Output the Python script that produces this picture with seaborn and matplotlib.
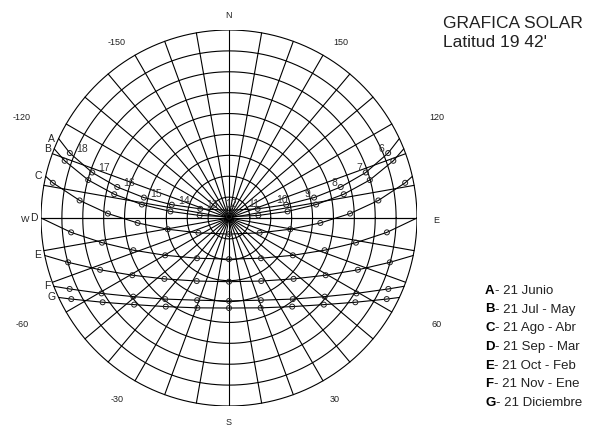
import numpy as np
import pandas as pd
import matplotlib
matplotlib.use("Agg")
import matplotlib.pyplot as plt
import seaborn as sns

# --- data (altitude / azimuth from south, + = east) ---

dates = ["A", "B", "C", "D", "E", "F", "G"]
date_names = ["21 Junio", "21 Jul - May", "21 Ago - Abr", "21 Sep - Mar",
              "21 Oct - Feb", "21 Nov - Ene", "21 Diciembre"]

hours_long = [6, 7, 8, 9, 10, 11, 12, 13, 14, 15, 16, 17, 18]
hours_short = [7, 8, 9, 10, 11, 12, 13, 14, 15, 16, 17]

A_alt = [7.7, 21.0, 34.5, 48.1, 61.9, 75.6, 86.3, 75.6, 61.9, 48.1, 34.5, 21.0, 7.7]
A_az = [112.2, 108.4, 105.5, 103.5, 103.1, 107.7, 180.0, -107.7, -103.1, -103.5, -105.5, -108.4, -112.2]
B_alt = [6.7, 20.2, 33.9, 47.8, 61.8, 75.9, 89.4, 75.9, 61.8, 47.8, 33.9, 20.2, 6.7]
B_az = [109.2, 105.1, 101.7, 98.8, 96.4, 95.0, 180.0, -95.0, -96.4, -98.8, -101.7, -105.1, -109.2]
C_alt = [4.0, 18.0, 32.0, 46.2, 60.2, 73.7, 82.3, 73.7, 60.2, 46.2, 32.0, 18.0, 4.0]
C_az = [101.3, 96.7, 92.1, 86.9, 79.6, 64.1, 0.0, -64.1, -79.6, -86.9, -92.1, -96.7, -101.3]
D_alt = [14.1, 28.1, 41.7, 54.6, 65.4, 70.3, 65.4, 54.6, 41.7, 28.1, 14.1]
D_az = [84.8, 79.0, 71.4, 59.7, 38.5, 0.0, -38.5, -59.7, -71.4, -79.0, -84.8]
E_alt = [10.1, 23.5, 36.2, 47.5, 56.1, 59.5, 56.1, 47.5, 36.2, 23.5, 10.1]
E_az = [74.6, 68.1, 59.4, 46.7, 27.1, 0.0, -27.1, -46.7, -59.4, -68.1, -74.6]
F_alt = [6.5, 19.1, 30.7, 40.6, 47.8, 50.3, 47.8, 40.6, 30.7, 19.1, 6.5]
F_az = [66.0, 59.4, 50.6, 38.2, 21.2, 0.0, -21.2, -38.2, -50.6, -59.4, -66.0]
G_alt = [5.1, 17.3, 28.5, 37.9, 44.4, 46.9, 44.4, 37.9, 28.5, 17.3, 5.1]
G_az = [62.8, 56.3, 47.6, 35.5, 19.4, 0.0, -19.4, -35.5, -47.6, -56.3, -62.8]

# sunrise azimuth of each curve (sunset is the same to the west)
sunrise_az = [115.0, 111.6, 102.8, 90.0, 78.5, 68.7, 65.0]

az_labels = ["150", "120", "60", "30", "-150", "-120", "-60", "-30"]

series = {
    "A": (hours_long, A_alt, A_az), "B": (hours_long, B_alt, B_az),
    "C": (hours_long, C_alt, C_az), "D": (hours_short, D_alt, D_az),
    "E": (hours_short, E_alt, E_az), "F": (hours_short, F_alt, F_az),
    "G": (hours_short, G_alt, G_az),
}


def to_xy(alt, az):
    # equidistant polar projection, radius = zenith distance
    r = 90 - np.asarray(alt, dtype=float)
    a = np.radians(np.asarray(az, dtype=float))
    return r * np.sin(a), -r * np.cos(a)


rows = []
for d in dates:
    hrs, alt, az = series[d]
    x, y = to_xy(alt, az)
    for h, xi, yi in zip(hrs, x, y):
        rows.append({"date": d, "hour": h, "x": xi, "y": yi})
pts = pd.DataFrame(rows)

# --- figure ---
sns.set_style("white")
plt.rcParams["font.family"] = ["Liberation Sans", "DejaVu Sans"]

W, H = 590, 429
fig = plt.figure(figsize=(W / 100, H / 100), dpi=100)
ax = fig.add_axes([41 / W, 23 / H, 376 / W, 376 / H])
ax.set_xlim(-90, 90)
ax.set_ylim(-90, 90)
ax.axis("off")

lw = 0.8
txt = "#222222"

# altitude rings
t = np.linspace(0, 2 * np.pi, 721)
for r in range(10, 91, 10):
    ax.plot(r * np.cos(t), r * np.sin(t), color="black", lw=lw, zorder=1)
# azimuth rays every 10 degrees
for a in range(0, 360, 10):
    ar = np.radians(a)
    ax.plot([0, 90 * np.sin(ar)], [0, -90 * np.cos(ar)], color="black", lw=lw, zorder=1)
ax.plot([-92, 92], [0, 0], color="black", lw=lw, zorder=1)

# day curves from sunrise to sunset
for i, d in enumerate(dates):
    hrs, alt, az = series[d]
    x, y = to_xy([0.0] + alt + [0.0], [sunrise_az[i]] + az + [-sunrise_az[i]])
    sns.lineplot(x=x, y=y, sort=False, estimator=None, color="black", lw=lw, ax=ax, zorder=2)
    # letter at the sunset end
    ax.annotate(d, (x[-1], y[-1]), xytext=(-5, 0), textcoords="offset points",
                ha="center", va="center", fontsize=7.5, color=txt)

# hourly points
sns.scatterplot(data=pts, x="x", y="y", marker="o", s=13, facecolors="none",
                edgecolor="#222222", linewidth=0.7, ax=ax, zorder=3, legend=False)
ax.set_xlabel("")
ax.set_ylabel("")

# hour numbers along the June curve
ax_x, ax_y = to_xy(A_alt, A_az)
for h, xi, yi in zip(hours_long, ax_x, ax_y):
    if h > 12:
        off = (8.6, 2.9)
    elif h == 12:
        off = (1.4, 4.3)
    elif h >= 10:
        off = (-3.2, 3.4)
    else:
        off = (-4.6, 2.9)
    ax.annotate(str(h), (xi, yi), xytext=off, textcoords="offset points",
                ha="center", va="center", fontsize=7.5, color="#333333")

# compass and azimuth labels
ax.text(0, 96.8, "N", ha="center", va="center", fontsize=6.5, color=txt)
ax.text(0, -97.8, "S", ha="center", va="center", fontsize=6.5, color=txt)
ax.text(-97.7, -0.8, "W", ha="center", va="center", fontsize=6.5, color=txt)
ax.text(99.1, -1.2, "E", ha="center", va="center", fontsize=6.5, color=txt)
az_pos = [(53.6, 83.8), (99.6, 47.9), (99.6, -51.2), (50.7, -87.1),
          (-53.6, 83.8), (-99.1, 47.9), (-99.1, -51.2), (-53.6, -87.1)]
for lab, (px, py) in zip(az_labels, az_pos):
    ax.text(px, py, lab, ha="center", va="center", fontsize=6.5, color=txt)

# title
fig.text(443 / W, 1 - 28.3 / H, "GRAFICA SOLAR", fontsize=12.5, color=txt, va="baseline")
fig.text(443 / W, 1 - 46.7 / H, "Latitud 19 42'", fontsize=12.5, color=txt, va="baseline")

# legend of dates
for i, (d, name) in enumerate(zip(dates, date_names)):
    yb = 1 - (293.8 + 18.7 * i) / H
    tl = fig.text(485 / W, yb, d, fontsize=9.5, fontweight="bold", color="black", va="baseline")
    ax.annotate("- " + name, xy=(1, 0), xycoords=tl, xytext=(0.3, 0), textcoords="offset points",
                va="bottom", ha="left", fontsize=9.5, color=txt, annotation_clip=False)

fig.savefig("out.png", dpi=100)
